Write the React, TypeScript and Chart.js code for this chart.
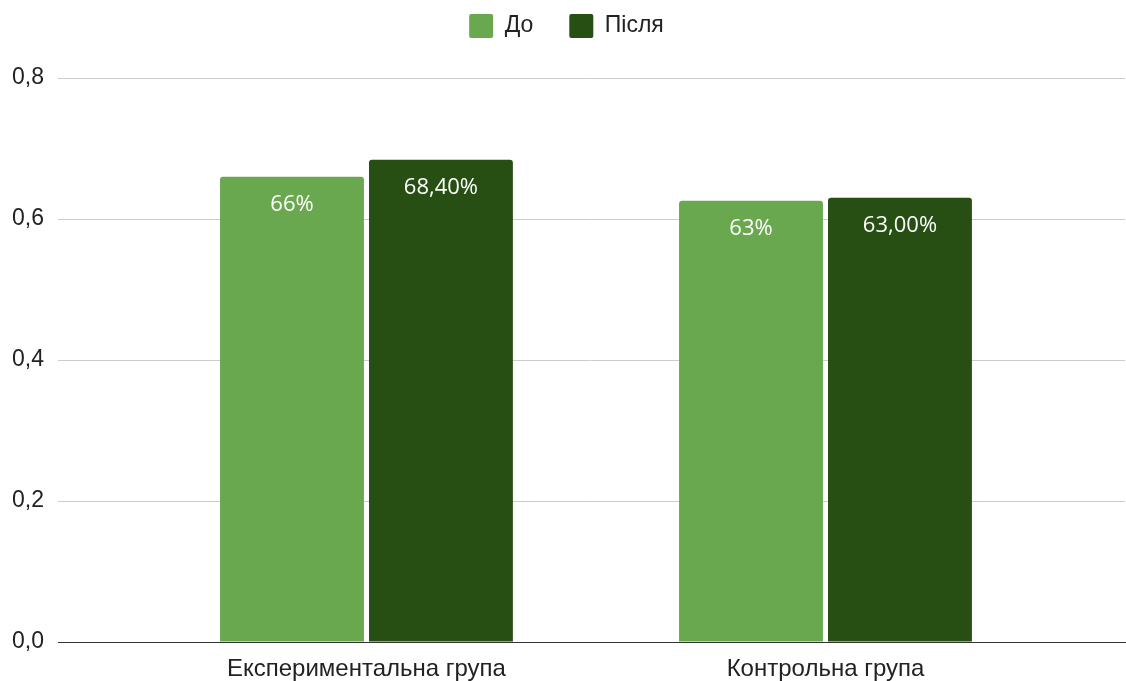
import React, { useEffect, useRef } from 'react';
import { Chart, registerables } from 'chart.js';

Chart.register(...registerables);

// ---- data ----
const categories = ['Експериментальна група', 'Контрольна група'];
const seriesNames = ['До', 'Після'];
const beforeValues = [0.66, 0.626];
const afterValues = [0.684, 0.63];
const beforeLabels = ['66%', '63%'];
const afterLabels = ['68,40%', '63,00%'];
const yTickValues = [0, 0.2, 0.4, 0.6, 0.8];
const seriesColors = ['#6aa84f', '#274e13'];

const AXIS_FONT = '"Liberation Sans", Arial, sans-serif';
const LABEL_FONT = '"Open Sans", "Noto Sans", sans-serif';

const valueLabelsPlugin = {
  id: 'valueLabels',
  afterDatasetsDraw(chart: any) {
    const ctx = chart.ctx;
    const allLabels = [beforeLabels, afterLabels];
    ctx.save();
    ctx.fillStyle = '#ffffff';
    ctx.font = `22px ${LABEL_FONT}`;
    ctx.textAlign = 'center';
    ctx.textBaseline = 'alphabetic';
    chart.data.datasets.forEach((_: any, di: number) => {
      const meta = chart.getDatasetMeta(di);
      meta.data.forEach((bar: any, i: number) => {
        ctx.fillText(allLabels[di][i], bar.x, bar.y + 34);
      });
    });
    ctx.restore();
  },
};

const LEGEND_PAD = 36;

const legendTweakPlugin = {
  id: 'legendTweak',
  beforeInit(chart: any) {
    const legend = chart.legend;
    if (legend) {
      const origFit = legend.fit.bind(legend);
      legend.fit = function () {
        origFit();
        this.height = 78;
      };
    }
  },
  afterLayout(chart: any) {
    const legend = chart.legend;
    if (legend) {
      legend.top = 14 - LEGEND_PAD;
      legend.left += 4;
      legend.right += 4;
    }
  },
};

export default function App() {
  const canvasRef = useRef<HTMLCanvasElement | null>(null);

  useEffect(() => {
    if (!canvasRef.current) return;
    const chart = new Chart(canvasRef.current, {
      type: 'bar',
      data: {
        datasets: [
          {
            label: seriesNames[0],
            data: beforeValues.map((v, i) => ({ x: i, y: v })),
            backgroundColor: seriesColors[0],
            borderRadius: 3,
            categoryPercentage: 0.649,
            barPercentage: 0.966,
          },
          {
            label: seriesNames[1],
            data: afterValues.map((v, i) => ({ x: i, y: v })),
            backgroundColor: seriesColors[1],
            borderRadius: 3,
            categoryPercentage: 0.649,
            barPercentage: 0.966,
          },
        ],
      },
      options: {
        responsive: false,
        animation: false,
        layout: { padding: { left: 0, right: 1, top: 0, bottom: 0 } },
        plugins: {
          legend: {
            display: true,
            position: 'top',
            labels: {
              boxWidth: 24,
              boxHeight: 24,
              padding: LEGEND_PAD,
              useBorderRadius: true,
              borderRadius: 2,
              color: '#222222',
              font: { family: AXIS_FONT, size: 23 },
            },
          },
          tooltip: { enabled: false },
        },
        scales: {
          x: {
            type: 'linear',
            min: -0.672,
            max: 1.6525,
            offset: false,
            grid: { display: false, drawTicks: false, offset: false },
            border: { display: true, color: '#333333', width: 1 },
            afterBuildTicks: (scale: any) => {
              scale.ticks = categories.map((_, i) => ({ value: i }));
            },
            afterFit: (scale: any) => {
              scale.height = 39;
            },
            ticks: {
              padding: 13,
              color: '#222222',
              font: { family: AXIS_FONT, size: 24 },
              maxRotation: 0,
              autoSkip: false,
              callback: (value: any) => categories[value as number] ?? '',
            },
          },
          y: {
            min: 0,
            max: 0.8,
            afterBuildTicks: (scale: any) => {
              scale.ticks = yTickValues.map((v) => ({ value: v }));
            },
            afterFit: (scale: any) => {
              scale.width = 58;
            },
            grid: { color: '#cccccc', drawTicks: false, lineWidth: 1 },
            border: { display: false },
            ticks: {
              padding: 14,
              color: '#222222',
              font: { family: AXIS_FONT, size: 23 },
              callback: (value: any) => Number(value).toFixed(1).replace('.', ','),
            },
          },
        },
      },
      plugins: [valueLabelsPlugin, legendTweakPlugin],
    });
    return () => chart.destroy();
  }, []);

  return (
    <div style={{ position: 'absolute', left: 0, top: 0, width: 1126, height: 681, background: '#ffffff' }}>
      <canvas ref={canvasRef} width={1126} height={681} style={{ display: 'block' }} />
    </div>
  );
}
